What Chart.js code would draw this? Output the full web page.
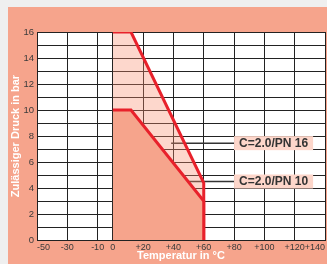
<!DOCTYPE html>
<html>
<head>
<meta charset="utf-8">
<script src="https://cdn.jsdelivr.net/npm/chart.js@4"></script>
<style>
  html, body { margin: 0; padding: 0; background: #efefef; }
  #panel { position: absolute; left: 8px; top: 7px; width: 319px; height: 257px; background: #f6a48c; }
</style>
</head>
<body>
<div id="panel"><canvas id="druckChart"></canvas></div>
<script>
// Achsen
const xTicks = [-50, -30, -10, 0, 20, 40, 60, 80, 100, 120, 140];
const yTicks = [0, 1, 2, 3, 4, 5, 6, 7, 8, 9, 10, 11, 12, 13, 14, 15, 16];

// Grenzkurven (Temperatur °C / Druck bar)
const pn16Temp = [0, 12, 60, 60];
const pn16Bar  = [16, 16, 4.4, 0];
const pn10Temp = [0, 12, 60, 60];
const pn10Bar  = [10, 10, 3, 0];

// Beschriftungen mit Hinweislinie
const labelNames = ['C=2.0/PN 16', 'C=2.0/PN 10'];
const labelBar   = [7.45, 4.5];
const leaderTemp = [38.5, 80];

const red = '#e8212b';
const font = "'Liberation Sans', Arial, sans-serif";

function pts(xs, ys) {
    return xs.map((x, i) => ({ x: x, y: ys[i] }));
}

// weisser Hintergrund im Diagramm
const plotBg = {
    id: 'plotBg',
    beforeDraw(chart) {
        const a = chart.chartArea;
        chart.ctx.save();
        chart.ctx.fillStyle = '#ffffff';
        chart.ctx.fillRect(a.left, a.top, a.right - a.left, a.bottom - a.top);
        chart.ctx.restore();
    }
};

// Kästchen mit Text an den Hinweislinien
const boxLabels = {
    id: 'boxLabels',
    afterDatasetsDraw(chart) {
        const ctx = chart.ctx;
        const xs = chart.scales.x, ys = chart.scales.y;
        ctx.save();
        ctx.font = "bold 12px 'Liberation Sans', sans-serif";
        ctx.textBaseline = 'middle';
        labelNames.forEach((name, i) => {
            const x = xs.getPixelForValue(leaderTemp[1]);
            const y = ys.getPixelForValue(labelBar[i]);
            const w = ctx.measureText(name).width + 10;
            ctx.fillStyle = '#fdd6ca';
            ctx.fillRect(x, y - 7, w, 14);
            ctx.fillStyle = '#333333';
            ctx.fillText(name, x + 5, y + 0.5);
        });
        ctx.restore();
    }
};

new Chart(document.getElementById('druckChart'), {
    type: 'line',
    data: {
        datasets: [{
            label: 'PN 10',
            data: pts(pn10Temp, pn10Bar),
            borderColor: red,
            borderWidth: 3,
            backgroundColor: '#f6a48c',
            fill: 'origin',
            pointRadius: 0,
            tension: 0
        }, {
            label: 'PN 16',
            data: pts(pn16Temp, pn16Bar),
            borderColor: red,
            borderWidth: 3,
            backgroundColor: 'rgba(248, 140, 110, 0.35)',
            fill: 'origin',
            pointRadius: 0,
            tension: 0
        }, {
            label: labelNames[0],
            data: pts(leaderTemp, [labelBar[0], labelBar[0]]),
            borderColor: '#333333',
            borderWidth: 1.5,
            pointRadius: 0,
            fill: false
        }, {
            label: labelNames[1],
            data: pts(leaderTemp, [labelBar[1], labelBar[1]]),
            borderColor: '#333333',
            borderWidth: 1.5,
            pointRadius: 0,
            fill: false
        }]
    },
    options: {
        responsive: true,
        maintainAspectRatio: false,
        animation: false,
        layout: { padding: { left: 0, top: 25, right: 2, bottom: 0 } },
        plugins: {
            legend: { display: false },
            tooltip: { enabled: false }
        },
        scales: {
            x: {
                type: 'linear',
                min: -50,
                max: 140,
                afterBuildTicks: (s) => { s.ticks = xTicks.map(v => ({ value: v })); },
                afterFit: (s) => { s.height = 24; s.paddingLeft = 0; s.paddingRight = 0; },
                grid: { color: '#222222', lineWidth: 1, drawTicks: false },
                border: { color: '#222222', width: 1 },
                ticks: {
                    padding: 2,
                    align: 'inner',
                    color: '#3a3a3a',
                    font: { family: font, size: 9 },
                    maxRotation: 0,
                    autoSkip: false,
                    callback: (v) => (v > 0 ? '+' + v : String(v))
                },
                title: {
                    display: true,
                    text: 'Temperatur in °C',
                    color: '#ffffff',
                    font: { family: font, size: 11, weight: 'bold' },
                    padding: { top: 1.4, bottom: 1.4 }
                }
            },
            y: {
                min: 0,
                max: 16,
                afterBuildTicks: (s) => { s.ticks = yTicks.map(v => ({ value: v })); },
                afterFit: (s) => { s.width = 29; s.paddingTop = 0; s.paddingBottom = 0; },
                grid: { color: '#222222', lineWidth: 1, drawTicks: false },
                border: { color: '#222222', width: 1 },
                ticks: {
                    padding: 3,
                    color: '#3a3a3a',
                    font: { family: font, size: 9.5 },
                    autoSkip: false,
                    callback: (v) => (v % 2 === 0 ? String(v) : '')
                },
                title: {
                    display: true,
                    text: 'Zulässiger Druck in bar',
                    color: '#ffffff',
                    font: { family: font, size: 11, weight: 'bold' },
                    padding: { top: 1.4, bottom: 1.4 }
                }
            }
        }
    },
    plugins: [plotBg, boxLabels]
});
</script>
</body>
</html>
